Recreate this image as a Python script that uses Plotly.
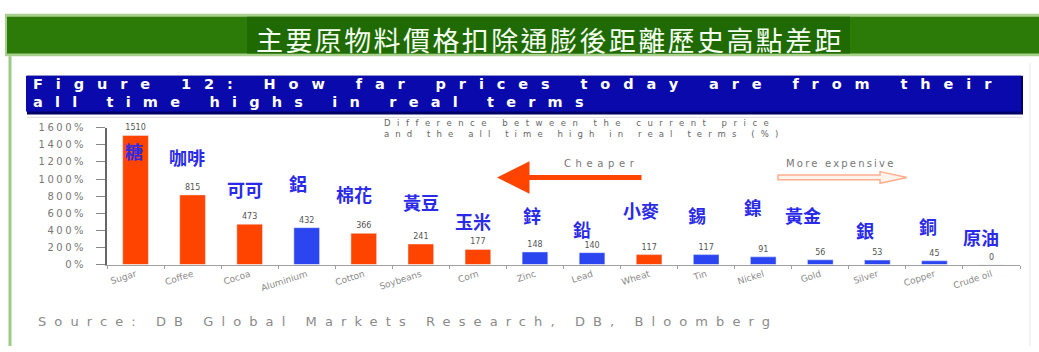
import plotly.graph_objects as go

# ---------------- data ----------------
categories = ["Sugar", "Coffee", "Cocoa", "Aluminium", "Cotton", "Soybeans", "Corn", "Zinc",
              "Lead", "Wheat", "Tin", "Nickel", "Gold", "Silver", "Copper", "Crude oil"]
values = [1510, 815, 473, 432, 366, 241, 177, 148, 140, 117, 117, 91, 56, 53, 45, 0]
groups = ["soft", "soft", "soft", "metal", "soft", "soft", "soft", "metal",
          "metal", "soft", "metal", "metal", "metal", "metal", "metal", "energy"]
chinese_names = ["糖", "咖啡", "可可", "鋁", "棉花", "黃豆", "玉米", "鋅",
                 "鉛", "小麥", "錫", "鎳", "黃金", "銀", "銅", "原油"]
y_ticks = [0, 200, 400, 600, 800, 1000, 1200, 1400, 1600]
y_tick_labels = [f"{v}%" for v in y_ticks]

title_cn = "主要原物料價格扣除通膨後距離歷史高點差距"
fig_title_1 = "Figure 12: How far prices today are from their"
fig_title_2 = "all time highs in real terms"
legend_1 = "Difference between the current price"
legend_2 = "and the all time high in real terms (%)"
source = "Source: DB Global Markets Research, DB, Bloomberg"

# ---------------- layout helpers ----------------
W, H = 1039, 352
def px(x):
    return x / W
def py(y):
    return 1 - y / H
def spaced(text, ls):
    return f'<span style="letter-spacing:{ls}px">{text}</span>'

color_map = {"soft": "#FF4400", "metal": "#2B45F0", "energy": "#2B45F0"}
bar_colors = [color_map[g] for g in groups]

fig = go.Figure()
fig.add_trace(go.Bar(
    x=categories, y=values, marker_color=bar_colors, width=0.45,
    text=[str(v) for v in values], textposition="outside",
    textfont=dict(size=8, color="#555", family="DejaVu Sans"),
    cliponaxis=False, showlegend=False,
))

annotations = []
shapes = []

def label(text, x, y, size, color, ls=0, bold=False, family="DejaVu Sans", anchor="left"):
    annotations.append(dict(
        x=px(x), y=py(y), xref="paper", yref="paper",
        text=spaced(text, ls) if ls else text, showarrow=False,
        xanchor=anchor, yanchor="middle",
        font=dict(size=size, color=color, family=family,
                  weight="bold" if bold else "normal")))

# green title band
shapes.append(dict(type="rect", xref="paper", yref="paper", x0=px(5), x1=1, y0=py(53), y1=py(9),
                   fillcolor="#A8D08D", line_width=0, layer="below"))
shapes.append(dict(type="rect", xref="paper", yref="paper", x0=px(7), x1=1, y0=py(50), y1=py(12),
                   fillcolor="#2C7A08", line_width=0, layer="below"))
shapes.append(dict(type="rect", xref="paper", yref="paper", x0=px(247), x1=px(850), y0=py(50), y1=py(12),
                   fillcolor="#1F6A02", line_width=0, layer="below"))
label(title_cn, 254, 36, 27, "#F4FFF0", ls=2.4, family="Noto Sans CJK TC")

# left green frame line & right faint line
shapes.append(dict(type="line", xref="paper", yref="paper", x0=px(10), x1=px(10), y0=0, y1=py(53),
                   line=dict(color="#9CCB88", width=3)))
shapes.append(dict(type="line", xref="paper", yref="paper", x0=px(1030), x1=px(1030), y0=0, y1=py(60),
                   line=dict(color="#E6E6E6", width=1)))

# blue figure title box
shapes.append(dict(type="rect", xref="paper", yref="paper", x0=px(27), x1=px(1023), y0=py(113), y1=py(73),
                   fillcolor="#000066", line_width=0, layer="below"))
shapes.append(dict(type="rect", xref="paper", yref="paper", x0=px(26), x1=px(1021), y0=py(110), y1=py(73),
                   fillcolor="#0A0AAC", line_width=0, layer="below"))
label(fig_title_1, 31, 82, 14.5, "white", ls=12.9, bold=True)
label(fig_title_2, 31, 100, 14.5, "white", ls=12.2, bold=True)

# faint line under box
shapes.append(dict(type="line", xref="paper", yref="paper", x0=px(27), x1=px(1022), y0=py(116), y1=py(116),
                   line=dict(color="#DDDDDD", width=1)))

# chart legend text
label(legend_1, 382, 121.5, 8.5, "#666666", ls=6.5)
label(legend_2, 382, 133, 8.5, "#666666", ls=6.1)

# arrows
annotations.append(dict(x=px(497), y=py(178), xref="paper", yref="paper", ax=146, ay=0,
                        text="", showarrow=True, arrowhead=2, arrowsize=1.3, arrowwidth=5,
                        arrowcolor="#FF4400"))
label("Cheaper", 562, 164, 10, "#777777", ls=4.6)
shapes.append(dict(type="path", xref="paper", yref="paper",
                   path=(f"M {px(778)},{py(175.5)} L {px(880)},{py(175.5)} L {px(880)},{py(172)} "
                         f"L {px(907)},{py(178)} L {px(880)},{py(184)} L {px(880)},{py(180.5)} "
                         f"L {px(778)},{py(180.5)} Z"),
                   fillcolor="#FFF3EC", line=dict(color="#FFAF8F", width=1.5)))
label("More expensive", 784, 164, 10, "#777777", ls=2.2)

# chinese commodity names
cn_dx = [-2, -6, -5, -9, -10, 0, -5, -3, -10, -8, -9, -10, -17, -12, -6, -10]
cn_y = [151, 157, 190, 184, 195, 203, 223, 217, 231, 212, 217, 208, 217, 232, 228, 240]
for cat, name, dx, yy in zip(categories, chinese_names, cn_dx, cn_y):
    annotations.append(dict(x=cat, y=py(yy), xref="x", yref="paper", xshift=dx,
                            text=name, showarrow=False, xanchor="center", yanchor="middle",
                            font=dict(size=18, color="#2A2AE8", family="Noto Sans CJK TC",
                                      weight="bold")))

# source
label(source, 36, 327, 13, "#8A8A8A", ls=8.1)

fig.update_layout(
    width=W, height=H, autosize=False,
    margin=dict(l=0, r=0, t=0, b=0),
    paper_bgcolor="white", plot_bgcolor="white",
    bargap=0.55,
    xaxis=dict(domain=[px(107), px(1020)], showline=True, linecolor="#A0A0A0", linewidth=1,
               ticks="outside", tickson="boundaries", ticklen=3, tickcolor="#A0A0A0",
               tickangle=-18, tickfont=dict(size=9, color="#8A8A8A", family="DejaVu Sans"),
               showgrid=False, zeroline=False, fixedrange=True),
    yaxis=dict(domain=[py(268), py(126.7)], range=[0, 1600], tickvals=y_ticks,
               ticktext=[spaced(t, 2.5) for t in y_tick_labels],
               showline=True, linecolor="#666666", linewidth=2,
               ticks="outside", ticklen=9, tickcolor="#888888", ticklabelstandoff=8,
               tickfont=dict(size=10, color="#777777", family="DejaVu Sans"),
               showgrid=False, zeroline=False, fixedrange=True),
    annotations=annotations, shapes=shapes,
)

fig.write_html("out.html")
